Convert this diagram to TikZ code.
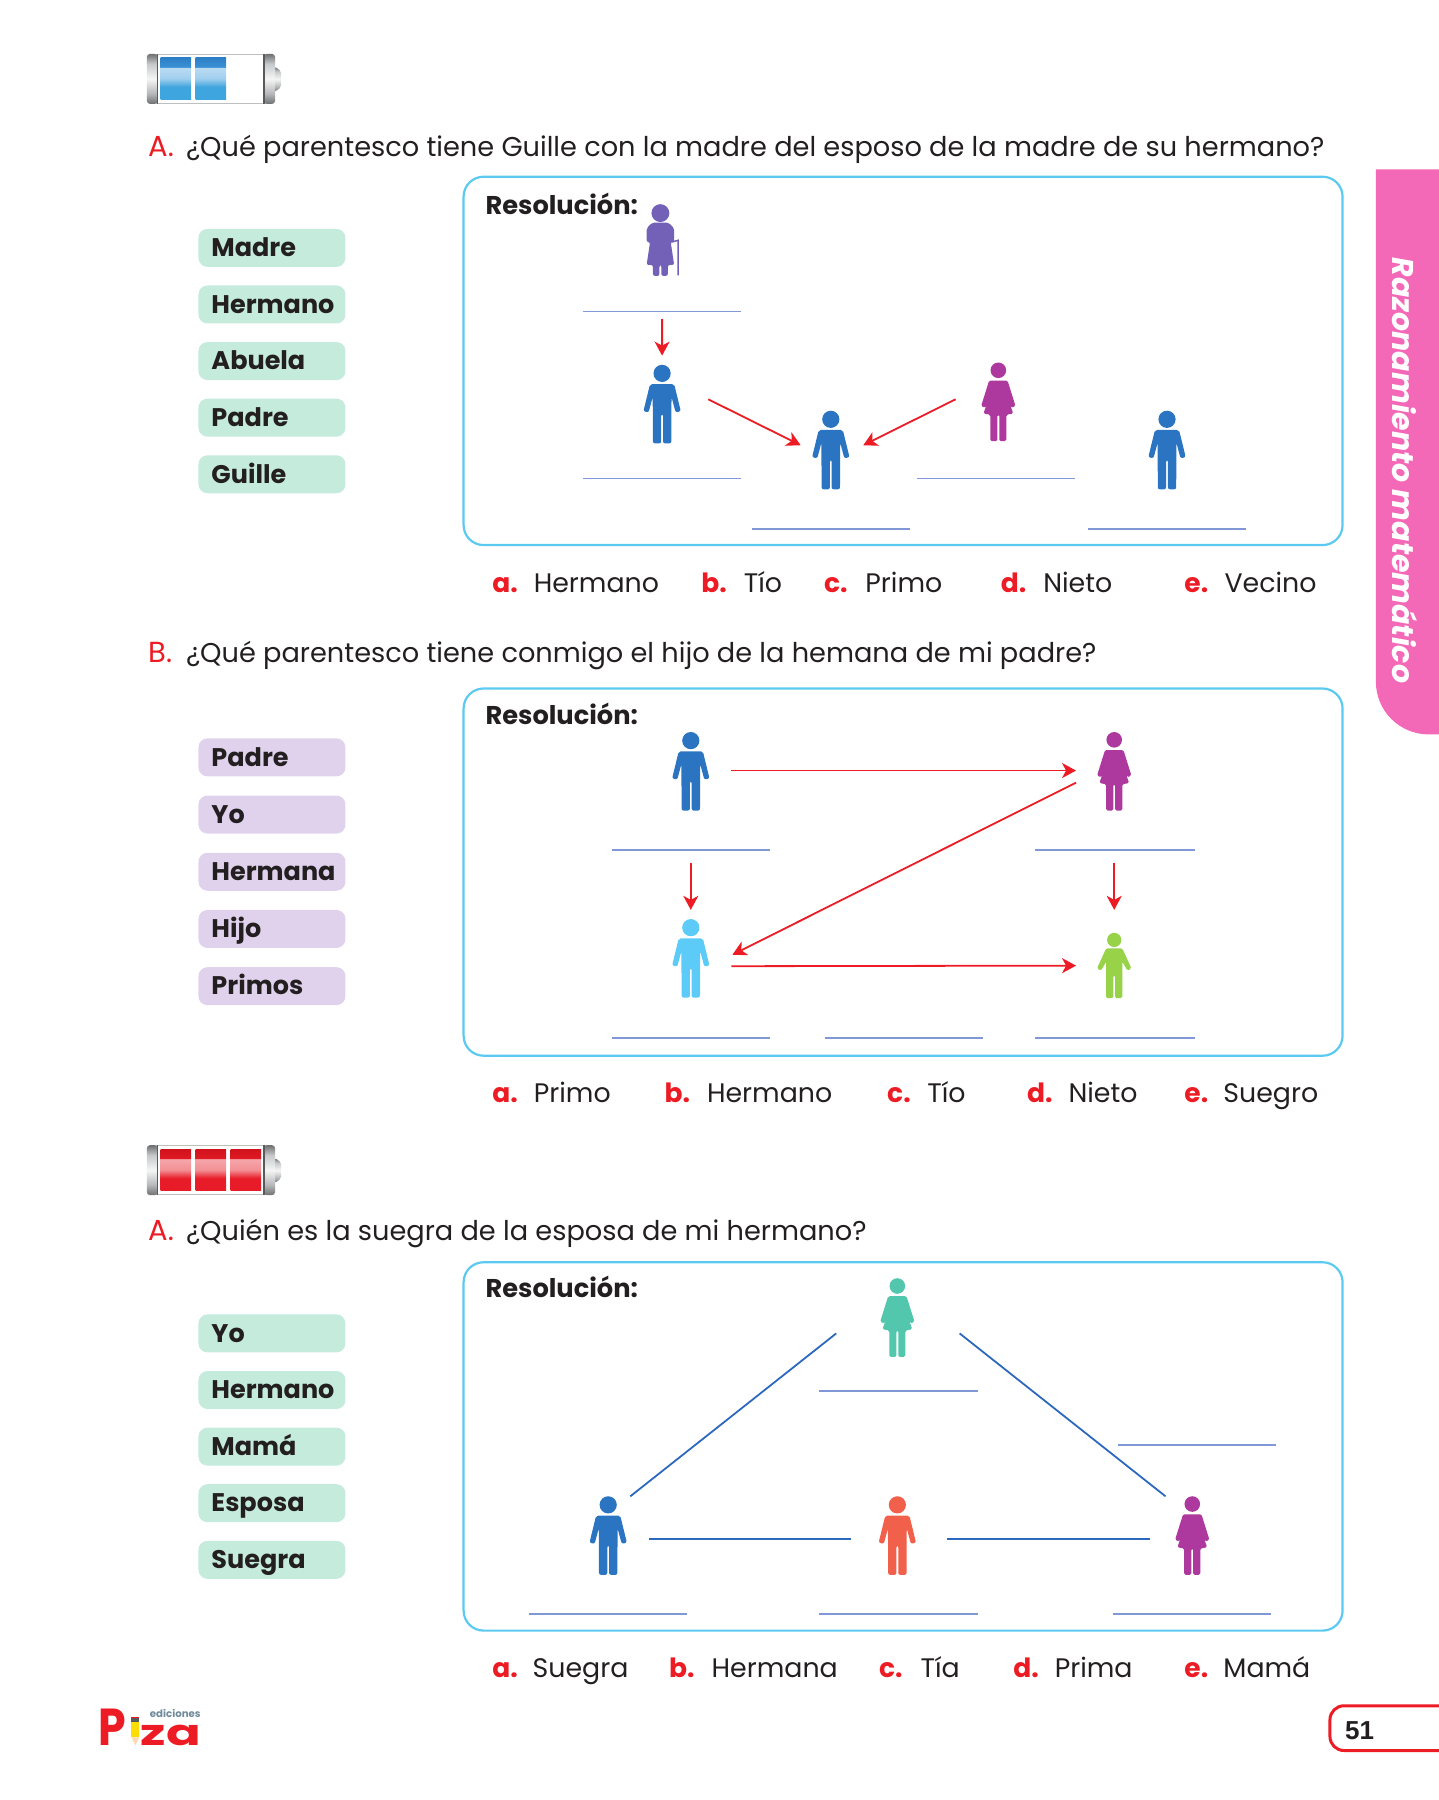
\documentclass[tikz,border=0pt]{standalone}
\usepackage{fontspec}
\setmainfont{Poppins}
\newfontfamily\numfont{Liberation Sans}
\usetikzlibrary{arrows.meta,positioning}

\definecolor{manblue}{HTML}{2B74C1}
\definecolor{wommag}{HTML}{AE399E}
\definecolor{sonblue}{HTML}{5CCBF7}
\definecolor{kidgreen}{HTML}{97D248}
\definecolor{womteal}{HTML}{52C7AE}
\definecolor{manorange}{HTML}{F0604B}
\definecolor{granpurple}{HTML}{7361B8}
\definecolor{tabpink}{HTML}{F468B8}
\definecolor{boxblue}{HTML}{5CCAF0}
\definecolor{blankblue}{HTML}{8198D8}
\definecolor{linkblue}{HTML}{2C68BE}
\definecolor{redmark}{HTML}{ED1C24}
\definecolor{pillgreen}{HTML}{C5EBDD}
\definecolor{pillmauve}{HTML}{E0D2EC}
\definecolor{inktext}{HTML}{231F20}
\definecolor{logogray}{HTML}{6F8A9A}
\definecolor{blA}{HTML}{3FA5DE}
\definecolor{blB}{HTML}{A0CFEE}
\definecolor{blC}{HTML}{BCDCF2}
\definecolor{blD}{HTML}{3A90D5}
\definecolor{blE}{HTML}{2E7FC6}
\definecolor{rdA}{HTML}{E81C28}
\definecolor{rdB}{HTML}{F29095}
\definecolor{rdC}{HTML}{F6A9AC}
\definecolor{rdD}{HTML}{DE1A24}
\definecolor{rdE}{HTML}{D0121C}
\definecolor{slA}{HTML}{6E7072}
\definecolor{slB}{HTML}{B5B6B8}
\definecolor{slC}{HTML}{F5F5F5}
\definecolor{slD}{HTML}{C8C9CB}

\pgfdeclareverticalshading{bluecell}{100bp}{color(0bp)=(blA); color(40bp)=(blA); color(50bp)=(blB); color(63.9bp)=(blC); color(64bp)=(blD); color(75bp)=(blE); color(100bp)=(blE)}
\pgfdeclareverticalshading{redcell}{100bp}{color(0bp)=(rdA); color(40bp)=(rdA); color(50bp)=(rdB); color(63.9bp)=(rdC); color(64bp)=(rdD); color(75bp)=(rdE); color(100bp)=(rdE)}
\pgfdeclareverticalshading{silver}{100bp}{color(0bp)=(slA); color(25bp)=(slA); color(35bp)=(slB); color(50bp)=(slC); color(65bp)=(slD); color(75bp)=(slA); color(100bp)=(slA)}

\tikzset{
  pics/man/.style={code={
    \fill[pic actions] (0,7.5) circle (7.5);
    \fill[pic actions, rounded corners=2pt] (-10.5,16.8) -- (10.5,16.8) -- (16.3,40.5) -- (11.8,41.5) -- (8.2,28) -- (8,68.5) -- (.8,68.5) -- (.8,43) -- (-.8,43) -- (-.8,68.5) -- (-8,68.5) -- (-8.2,28) -- (-11.8,41.5) -- (-16.3,40.5) -- cycle;
  }},
  pics/woman/.style={code={
    \fill[pic actions] (0,6.8) circle (6.8);
    \fill[pic actions, rounded corners=1.5pt] (-8,15.7) -- (8,15.7) -- (15,38) -- (11.2,39.5) -- (7.5,29) -- (13,44.5) -- (7,45.5) -- (7,68.5) -- (.8,68.5) -- (.8,45.5) -- (-.8,45.5) -- (-.8,68.5) -- (-7,68.5) -- (-7,45.5) -- (-13,44.5) -- (-7.5,29) -- (-11.2,39.5) -- (-15,38) -- cycle;
  }},
  pics/kid/.style={code={
    \fill[pic actions] (0,6.2) circle (6.2);
    \fill[pic actions, rounded corners=1.5pt] (-7,13.5) -- (7,13.5) -- (15,31) -- (11.5,33) -- (7,25) -- (7,57) -- (.8,57) -- (.8,37) -- (-.8,37) -- (-.8,57) -- (-7,57) -- (-7,25) -- (-11.5,33) -- (-15,31) -- cycle;
  }},
  pics/granny/.style={code={
    \fill[pic actions] (0,7.8) circle (7.8);
    \fill[pic actions, rounded corners=2pt] (-7,16) -- (7,16) -- (12,21) -- (12,33) -- (9,33) -- (12,53) -- (6.5,53) -- (6.5,62.5) -- (.8,62.5) -- (.8,53) -- (-.8,53) -- (-.8,62.5) -- (-6.5,62.5) -- (-6.5,53) -- (-12,53) -- (-9,33) -- (-12,33) -- (-12,21) -- cycle;
    \draw[granpurple, line width=1.5pt] (10,33) -- (15.5,31.5) -- (15.5,62);
  }},
  pics/battery/.style 2 args={code={
    \draw[gray!50, line width=.8pt] (5,.5) -- (106,.5) (5,43) -- (106,43);
    \shade[shading=silver, rounded corners=2pt] (111.5,11) -- (117,15) -- (117,29) -- (111.5,33) -- cycle;
    \shade[shading=silver, rounded corners=3pt] (0,0) rectangle (9.3,43.5);
    \shade[shading=silver, rounded corners=3pt] (102,0) rectangle (111.7,43.5);
    \draw[gray!70!black, line width=1.6pt] (9.3,0) -- (9.3,43.5) (102,0) -- (102,43.5);
    \foreach \k in {1,...,#2} {
      \shade[shading=#1] ({12+30.5*(\k-1)},3.3) rectangle ++(26.5,36.3);
    }
  }},
}

\begin{document}
\begin{tikzpicture}[x=1.1475pt, y=-1.1475pt,
    quest/.style={anchor=base west, inner sep=0pt, text=inktext, font=\fontsize{27.2}{30}\selectfont},
    qmark/.style={anchor=base west, inner sep=0pt, text=redmark, font=\fontsize{29}{30}\selectfont},
    opt/.style={anchor=base west, inner sep=0pt, text=inktext, font=\fontsize{26.8}{30}\selectfont},
    omark/.style={anchor=base west, inner sep=0pt, text=redmark, font=\bfseries\fontsize{26.5}{30}\selectfont},
    res/.style={anchor=base west, inner sep=0pt, text=inktext, font=\bfseries\fontsize{25.7}{30}\selectfont},
    pill/.style={inner xsep=13pt, inner ysep=0pt, text width=121pt, text height=20.5pt, text depth=3pt, minimum height=38pt, align=left, rounded corners=9pt, text=inktext, font=\bfseries\fontsize{25.5}{30}\selectfont},
    pg/.style={pill, fill=pillgreen},
    pm/.style={pill, fill=pillmauve},
    box/.style={draw=boxblue, line width=2.2pt, rounded corners=20pt},
    blank/.style={draw=blankblue, line width=1.8pt},
    ar/.style={draw=redmark, line width=1.8pt, -{Stealth[length=14pt, width=15pt, inset=4pt]}},
    ln/.style={draw=linkblue, line width=1.8pt},
    fig/.style={minimum width=92pt, minimum height=79pt, inner sep=0pt}]

  \useasboundingbox (0,0) rectangle (1254,1568.63);

  % side tab and page number
  \fill[tabpink] (1254,147.5) -- (1199,147.5) -- (1199,594) arc (180:90:46) -- (1254,640) -- cycle;
  \node[rotate=-90, text=white, inner sep=0pt, font=\bfseries\itshape\fontsize{30}{32}\selectfont] (tab) at (1224,410) {Razonamiento matemático};
  \draw[redmark, line width=3pt, rounded corners=14pt] (1254,1486.5) -- (1159,1486.5) -- (1159,1525.5) -- (1254,1525.5);
  \node[anchor=base west, inner sep=0pt, text=inktext, font=\numfont\bfseries\fontsize{26}{28}\selectfont] (page) at (1172,1515.5) {51};

  % logo
  \node[anchor=base west, inner sep=0pt, text=redmark, xscale=.85, font=\bfseries\fontsize{52}{52}\selectfont] (logoP) at (86,1521) {P};
  \node[anchor=base west, inner sep=0pt, text=redmark, xscale=1.42, font=\bfseries\fontsize{36}{36}\selectfont] (logoZ) at (122.5,1521) {za};
  \node[anchor=base east, inner sep=0pt, text=logogray, font=\bfseries\fontsize{10.2}{11}\selectfont] (logoE) at (175,1497) {ediciones};
  \fill[yellow!80!orange] (114.5,1500) rectangle (121.5,1514);
  \fill[gray!70!black] (114.5,1497.5) rectangle (121.5,1501);
  \fill[redmark] (114.5,1496) rectangle (121.5,1497.5);
  \fill[orange!30] (114.5,1514) -- (121.5,1514) -- (118,1521) -- cycle;

  % part A, two cells
  \pic at (128,47) {battery={bluecell}{2}};
  \node[qmark] (q1a) at (129,136) {A.};
  \node[quest] (q1) at (162,136) {¿Qué parentesco tiene Guille con la madre del esposo de la madre de su hermano?};

  \node[pg] (a1) at (237,216) {Madre};
  \node[pg, below=18.2pt of a1] (a2) {Hermano};
  \node[pg, below=18.2pt of a2] (a3) {Abuela};
  \node[pg, below=18.2pt of a3] (a4) {Padre};
  \node[pg, below=18.2pt of a4] (a5) {Guille};

  \draw[box] (404,154) rectangle (1170,475);
  \node[res] (r1) at (423,187) {Resolución:};

  \node[fig] (Ab) at (575.5,212.5) {};
  \pic[fill=granpurple] at (Ab.north) {granny};
  \node[fig] (Pa) at (577,352.5) {};
  \pic[fill=manblue] at (Pa.north) {man};
  \node[fig] (Gu) at (724,392.5) {};
  \pic[fill=manblue] at (Gu.north) {man};
  \node[fig] (Ma) at (870,350.5) {};
  \pic[fill=wommag] at (Ma.north) {woman};
  \node[fig] (He) at (1017,392.5) {};
  \pic[fill=manblue] at (He.north) {man};

  \draw[blank] (508,271.5) -- (646,271.5);
  \draw[blank] (508,417) -- (646,417);
  \draw[blank] (799,417) -- (937,417);
  \draw[blank] (655,461) -- (793,461);
  \draw[blank] (948,461) -- (1086,461);

  \draw[ar] ([shift={(1.5,31)}]Ab.south) -- ([shift={(0,-8)}]Pa.north);
  \draw[ar] ([shift={(0,-4.5)}]Pa.east) -- ([shift={(14,-4.5)}]Gu.west);
  \draw[ar] ([shift={(3,-2.5)}]Ma.west) -- ([shift={(-12,-4.5)}]Gu.east);

  \node[omark] (o1a) at (429,516) {a.};
  \node[opt] (t1a) at (465,516) {Hermano};
  \node[omark] (o1b) at (611,516) {b.};
  \node[opt] (t1b) at (648,516) {Tío};
  \node[omark] (o1c) at (718,516) {c.};
  \node[opt] (t1c) at (754,516) {Primo};
  \node[omark] (o1d) at (872,516) {d.};
  \node[opt] (t1d) at (909,516) {Nieto};
  \node[omark] (o1e) at (1032,516) {e.};
  \node[opt] (t1e) at (1067,516) {Vecino};

  % part B
  \node[qmark] (q2b) at (129,577) {B.};
  \node[quest] (q2) at (162,577) {¿Qué parentesco tiene conmigo el hijo de la hemana de mi padre?};

  \node[pm] (b1) at (237,660) {Padre};
  \node[pm, below=18.8pt of b1] (b2) {Yo};
  \node[pm, below=18.8pt of b2] (b3) {Hermana};
  \node[pm, below=18.8pt of b3] (b4) {Hijo};
  \node[pm, below=18.8pt of b4] (b5) {Primos};

  \draw[box] (404,600) rectangle (1170,920);
  \node[res] (r2) at (423,631) {Resolución:};

  \node[fig] (Pb) at (602,672.5) {};
  \pic[fill=manblue] at (Pb.north) {man};
  \node[fig] (Hn) at (971,672.5) {};
  \pic[fill=wommag] at (Hn.north) {woman};
  \node[fig] (Yo) at (602,835.5) {};
  \pic[fill=sonblue] at (Yo.north) {man};
  \node[fig] (Pr) at (971,835.5) {};
  \pic[fill=kidgreen] at ([shift={(0,12)}]Pr.north) {kid};

  \draw[blank] (533,740.5) -- (671,740.5);
  \draw[blank] (902,740.5) -- (1041,740.5);
  \draw[blank] (533,904.5) -- (671,904.5);
  \draw[blank] (719,904.5) -- (857,904.5);
  \draw[blank] (902,904.5) -- (1041,904.5);

  \draw[ar] ([shift={(-5,-1)}]Pb.east) -- ([shift={(7,-1)}]Hn.west);
  \draw[ar] ([shift={(7,9.5)}]Hn.west) -- ([shift={(-4,-3.5)}]Yo.east);
  \draw[ar] ([shift={(-5,6.5)}]Yo.east) -- ([shift={(7,6)}]Pr.west);
  \draw[ar] ([shift={(0,45)}]Pb.south) -- ([shift={(0,-8)}]Yo.north);
  \draw[ar] ([shift={(0,45)}]Hn.south) -- ([shift={(0,-8)}]Pr.north);

  \node[omark] (o2a) at (429,961) {a.};
  \node[opt] (t2a) at (465,961) {Primo};
  \node[omark] (o2b) at (579,961) {b.};
  \node[opt] (t2b) at (616,961) {Hermano};
  \node[omark] (o2c) at (773,961) {c.};
  \node[opt] (t2c) at (808,961) {Tío};
  \node[omark] (o2d) at (895,961) {d.};
  \node[opt] (t2d) at (931,961) {Nieto};
  \node[omark] (o2e) at (1032,961) {e.};
  \node[opt] (t2e) at (1066,961) {Suegro};

  % part C, three cells
  \pic at (128,998) {battery={redcell}{3}};
  \node[qmark] (q3a) at (129,1081) {A.};
  \node[quest] (q3) at (162,1081) {¿Quién es la suegra de la esposa de mi hermano?};

  \node[pg] (c1) at (237,1162) {Yo};
  \node[pg, below=18.2pt of c1] (c2) {Hermano};
  \node[pg, below=18.2pt of c2] (c3) {Mamá};
  \node[pg, below=18.2pt of c3] (c4) {Esposa};
  \node[pg, below=18.2pt of c4] (c5) {Suegra};

  \draw[box] (404,1100) rectangle (1170,1421);
  \node[res] (r3) at (423,1131) {Resolución:};

  \node[fig] (Te) at (782,1148.5) {};
  \pic[fill=womteal] at (Te.north) {woman};
  \node[fig] (Bm) at (530,1338.5) {};
  \pic[fill=manblue] at (Bm.north) {man};
  \node[fig] (Or) at (782,1338.5) {};
  \pic[fill=manorange] at (Or.north) {man};
  \node[fig] (Mg) at (1039,1338.5) {};
  \pic[fill=wommag] at (Mg.north) {woman};

  \draw[blank] (714,1212.5) -- (852,1212.5);
  \draw[blank] (974,1259.5) -- (1112,1259.5);
  \draw[blank] (461,1406.5) -- (599,1406.5);
  \draw[blank] (714,1406.5) -- (852,1406.5);
  \draw[blank] (970,1406.5) -- (1108,1406.5);

  \draw[ln] ([shift={(-21,-34.5)}]Bm.east) -- ([shift={(-13,13.5)}]Te.west);
  \draw[ln] ([shift={(14,13.5)}]Te.east) -- ([shift={(17,-34.5)}]Mg.west);
  \draw[ln] ([shift={(-5,2.5)}]Bm.east) -- ([shift={(0,2.5)}]Or.west);
  \draw[ln] ([shift={(3,2.5)}]Or.east) -- ([shift={(3,2.5)}]Mg.west);

  \node[omark] (o3a) at (429,1462) {a.};
  \node[opt] (t3a) at (464,1462) {Suegra};
  \node[omark] (o3b) at (583,1462) {b.};
  \node[opt] (t3b) at (620,1462) {Hermana};
  \node[omark] (o3c) at (766,1462) {c.};
  \node[opt] (t3c) at (802,1462) {Tía};
  \node[omark] (o3d) at (883,1462) {d.};
  \node[opt] (t3d) at (919,1462) {Prima};
  \node[omark] (o3e) at (1032,1462) {e.};
  \node[opt] (t3e) at (1066,1462) {Mamá};
\end{tikzpicture}
\end{document}
